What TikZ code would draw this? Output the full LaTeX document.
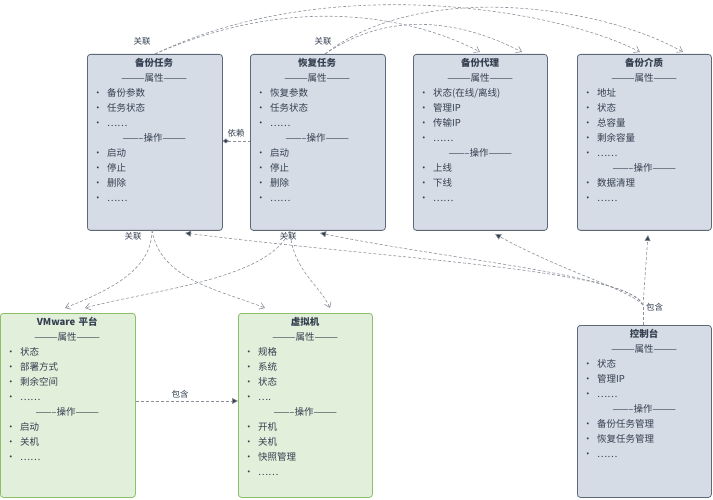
\documentclass[tikz,border=0pt]{standalone}
\usepackage{fontspec}
\setmainfont{Noto Sans CJK SC}
\usetikzlibrary{arrows.meta}
\definecolor{bfill}{HTML}{D6DCE5}
\definecolor{bdraw}{HTML}{5E6878}
\definecolor{gfill}{HTML}{E2EFDA}
\definecolor{gdraw}{HTML}{8CBF6A}
\definecolor{tcol}{HTML}{333F50}
\definecolor{lcol}{HTML}{8A8F98}
\newcommand{\ctr}[1]{\makebox[122pt]{#1}}
\newcommand{\itm}[1]{\makebox[14pt][l]{•}#1}
\begin{document}
\begin{tikzpicture}[x=1pt,y=-1pt,
  box/.style={draw=bdraw,fill=bfill,rounded corners=3pt,line width=0.8pt},
  gbox/.style={draw=gdraw,fill=gfill,rounded corners=3pt,line width=0.8pt},
  txt/.style={anchor=north west,inner sep=0pt,text width=122pt,align=left,font=\fontsize{9.5}{15}\selectfont,text=tcol},
  lab/.style={font=\fontsize{8.5}{10}\selectfont,text=tcol,inner sep=1pt},
  con/.style={draw=lcol,densely dashed,line width=0.6pt},
  oarr/.style={con,-{Straight Barb[length=5pt,width=7pt]}},
  farr/.style={con,-{Triangle[length=6pt,width=6pt,fill=tcol]}}]
\useasboundingbox (0,0) rectangle (713,500);
% boxes
\node[box,minimum width=135pt,minimum height=176pt,anchor=north west] (bk) at (87,54) {};
\node[box,minimum width=135pt,minimum height=176pt,anchor=north west] (rs) at (250,54) {};
\node[box,minimum width=134pt,minimum height=176pt,anchor=north west] (ag) at (413,54) {};
\node[box,minimum width=134pt,minimum height=176pt,anchor=north west] (md) at (577,54) {};
\node[gbox,minimum width=135pt,minimum height=184pt,anchor=north west] (vw) at (0,313) {};
\node[gbox,minimum width=134pt,minimum height=184pt,anchor=north west] (vm) at (238,313) {};
\node[box,minimum width=134pt,minimum height=172pt,anchor=north west] (ct) at (577,325) {};
% texts
\node[txt] (bkt) at (93,58) {\ctr{\textbf{备份任务}}\\\ctr{---------属性---------}\\\itm{备份参数}\\\itm{任务状态}\\\itm{……}\\\ctr{--------操作---------}\\\itm{启动}\\\itm{停止}\\\itm{删除}\\\itm{……}};
\node[txt] (rst) at (256,58) {\ctr{\textbf{恢复任务}}\\\ctr{---------属性---------}\\\itm{恢复参数}\\\itm{任务状态}\\\itm{……}\\\ctr{--------操作---------}\\\itm{启动}\\\itm{停止}\\\itm{删除}\\\itm{……}};
\node[txt] (agt) at (419,58) {\ctr{\textbf{备份代理}}\\\ctr{---------属性---------}\\\itm{状态(在线/离线)}\\\itm{管理IP}\\\itm{传输IP}\\\itm{……}\\\ctr{--------操作---------}\\\itm{上线}\\\itm{下线}\\\itm{……}};
\node[txt] (mdt) at (583,58) {\ctr{\textbf{备份介质}}\\\ctr{---------属性---------}\\\itm{地址}\\\itm{状态}\\\itm{总容量}\\\itm{剩余容量}\\\itm{……}\\\ctr{--------操作---------}\\\itm{数据清理}\\\itm{……}};
\node[txt] (vwt) at (6,317) {\ctr{\textbf{VMware 平台}}\\\ctr{---------属性---------}\\\itm{状态}\\\itm{部署方式}\\\itm{剩余空间}\\\itm{……}\\\ctr{--------操作---------}\\\itm{启动}\\\itm{关机}\\\itm{……}};
\node[txt] (vmt) at (244,317) {\ctr{\textbf{虚拟机}}\\\ctr{---------属性---------}\\\itm{规格}\\\itm{系统}\\\itm{状态}\\\itm{….}\\\ctr{--------操作---------}\\\itm{开机}\\\itm{关机}\\\itm{快照管理}\\\itm{……}};
\node[txt] (ctt) at (583,329) {\ctr{\textbf{控制台}}\\\ctr{---------属性---------}\\\itm{状态}\\\itm{管理IP}\\\itm{……}\\\ctr{--------操作---------}\\\itm{备份任务管理}\\\itm{恢复任务管理}\\\itm{……}};
% coordinates
\coordinate (bkT) at (155,54); \coordinate (rsT) at (325,54);
\coordinate (agA) at (480,52); \coordinate (agB) at (522,52);
\coordinate (mdA) at (640,52); \coordinate (mdB) at (683,52);
\coordinate (bkB) at (152,230); \coordinate (rsB) at (290,230);
\coordinate (vwA) at (65,308); \coordinate (vwB) at (85,308);
\coordinate (vmA) at (265,308); \coordinate (vmB) at (330,308);
\coordinate (ctT) at (643,325); \coordinate (ctH) at (643,305);
% top associations
\draw[oarr] (bkT) .. controls (300,-10) and (420,20) .. (agA);
\draw[oarr] (bkT) .. controls (330,-30) and (560,10) .. (mdA);
\draw[oarr] (rsT) .. controls (390,10) and (460,20) .. (agB);
\draw[oarr] (rsT) .. controls (420,-20) and (600,5) .. (mdB);
\node[lab] at (142,41) {关联};
\node[lab] at (323,41) {关联};
% dependency
\draw[con,{Diamond[length=6pt,width=5pt,fill=tcol]}-] (bk.east|-0,141) -- (rs.west|-0,141);
\node[lab] at (236,133) {依赖};
% bottom associations
\draw[oarr] (bkB) .. controls (152,270) and (110,290) .. (vwA);
\draw[oarr] (bkB) .. controls (160,280) and (220,290) .. (vmA);
\draw[oarr] (rsB) .. controls (270,280) and (150,290) .. (vwB);
\draw[oarr] (rsB) .. controls (292,270) and (320,285) .. (vmB);
\node[lab] at (133,236) {关联};
\node[lab] at (288,236) {关联};
% console contains
\draw[con] (ctT) -- (ctH);
\draw[farr] (ctH) .. controls (630,270) and (400,260) .. (185,233);
\draw[farr] (ctH) .. controls (630,275) and (450,260) .. (320,233);
\draw[farr] (ctH) .. controls (630,290) and (560,270) .. (495,234);
\draw[farr] (ctH) -- (648,235);
\node[lab,anchor=west] at (645,307) {包含};
\draw[farr] (vw.east|-0,401) -- (vm.west|-0,401);
\node[lab] at (180,394) {包含};
\end{tikzpicture}
\end{document}
